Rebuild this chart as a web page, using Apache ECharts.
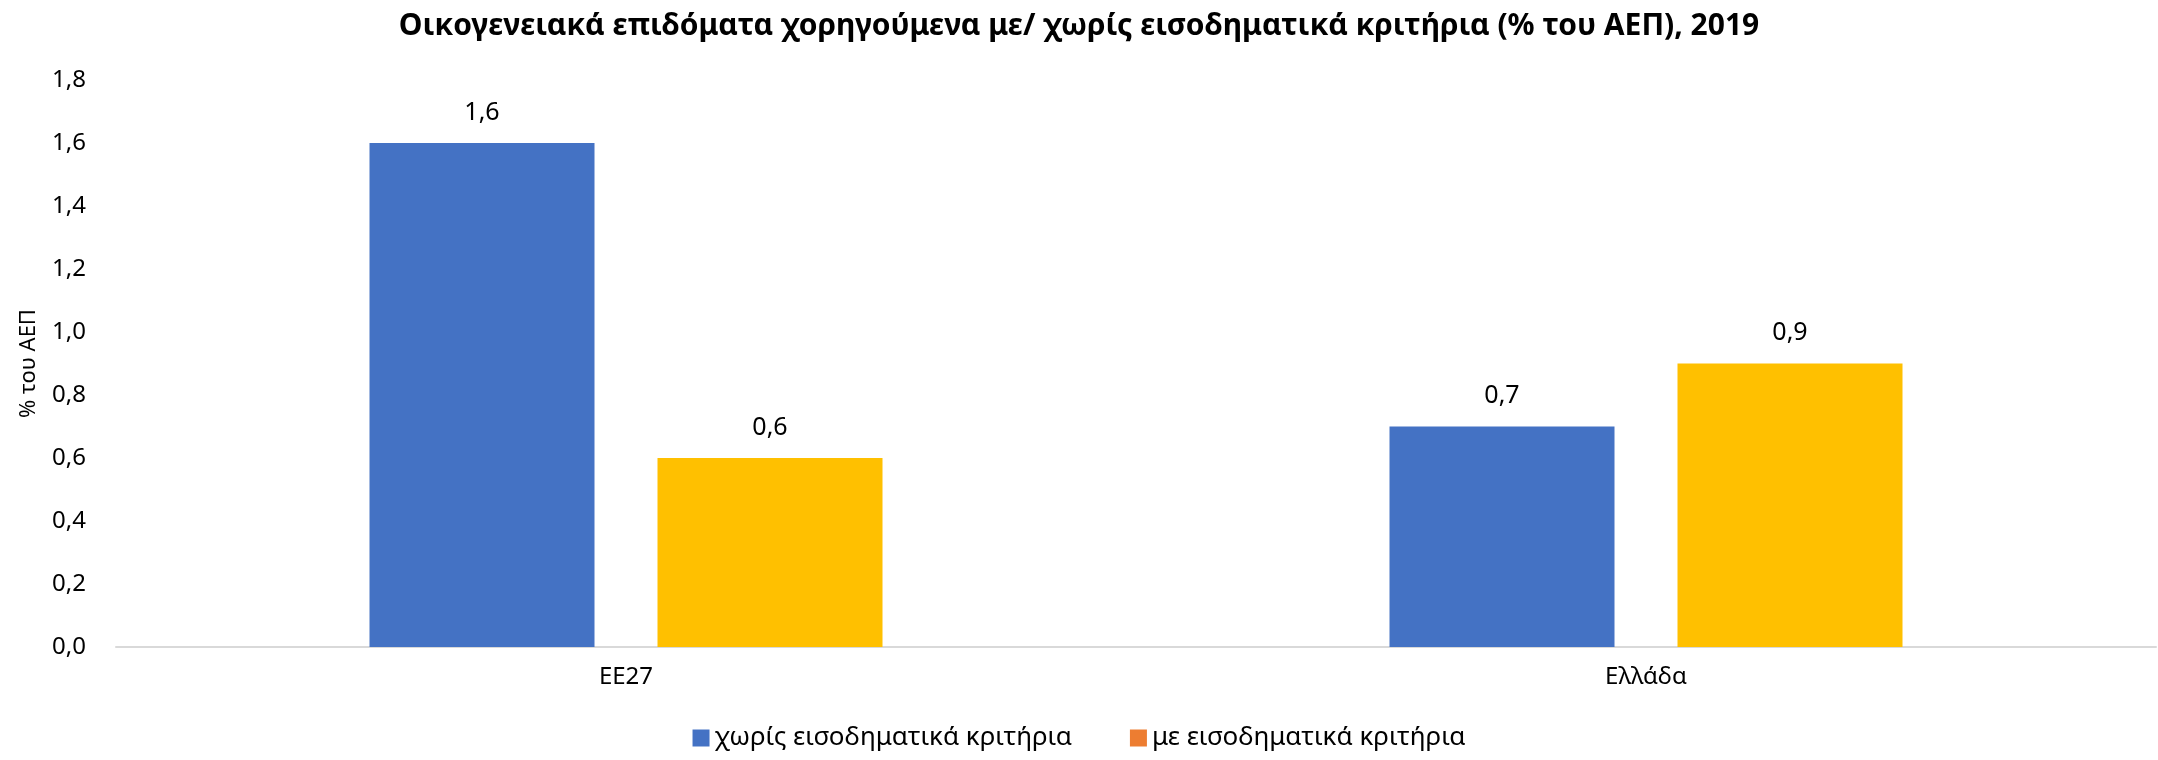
<!DOCTYPE html>
<html>
<head>
<meta charset="utf-8">
<script src="https://cdn.jsdelivr.net/npm/echarts@6/dist/echarts.min.js"></script>
<style>
  html, body { margin: 0; padding: 0; background: #fff; }
  #chart { width: 2158px; height: 760px; }
</style>
</head>
<body>
<div id="chart"></div>
<script>
const categories = ['ΕΕ27', 'Ελλάδα']
const seriesNames = ['χωρίς εισοδηματικά κριτήρια', 'με εισοδηματικά κριτήρια']
const withoutCriteria = [1.6, 0.7]
const withCriteria = [0.6, 0.9]

const chart = echarts.init(document.getElementById('chart'))
const font = 'Noto Sans'
const comma = v => v.toFixed(1).replace('.', ',')

const barLabel = {
  show: true,
  position: 'top',
  distance: 18,
  color: '#000',
  fontFamily: font,
  fontSize: 25,
  formatter: ({ value }) => comma(value)
}

chart.setOption({
  animation: false,
  textStyle: { fontFamily: font },
  title: {
    text: 'Οικογενειακά επιδόματα χορηγούμενα με/ χωρίς εισοδηματικά κριτήρια (% του ΑΕΠ), 2019',
    left: 'center',
    top: 6,
    textStyle: { fontFamily: font, fontSize: 30, fontWeight: 'bold', color: '#000' }
  },
  legend: {
    bottom: 4,
    left: 'center',
    itemWidth: 17,
    itemHeight: 17,
    itemGap: 58,
    icon: 'rect',
    textStyle: { fontFamily: font, fontSize: 26, color: '#000' },
    data: [
      { name: seriesNames[0], itemStyle: { color: '#4472C4' } },
      { name: seriesNames[1], itemStyle: { color: '#ED7D31' } }
    ]
  },
  grid: { left: 116, right: 2, top: 80, bottom: 113 },
  xAxis: {
    type: 'category',
    data: categories,
    axisTick: { show: false },
    axisLine: { lineStyle: { color: '#d9d9d9', width: 2 } },
    axisLabel: { color: '#000', fontFamily: font, fontSize: 24, margin: 18 }
  },
  yAxis: {
    type: 'value',
    min: 0,
    max: 1.8,
    interval: 0.2,
    name: '% του ΑΕΠ',
    nameLocation: 'middle',
    nameGap: 76,
    nameTextStyle: { color: '#000', fontFamily: font, fontSize: 22 },
    splitLine: { show: false },
    axisLine: { show: false },
    axisTick: { show: false },
    axisLabel: { color: '#000', fontFamily: font, fontSize: 24, margin: 30, formatter: comma }
  },
  series: [
    {
      name: seriesNames[0],
      type: 'bar',
      data: withoutCriteria,
      barWidth: 225,
      barGap: '28%',
      itemStyle: { color: '#4472C4' },
      label: barLabel
    },
    {
      name: seriesNames[1],
      type: 'bar',
      data: withCriteria,
      barWidth: 225,
      itemStyle: { color: '#FFC000' },
      label: barLabel
    }
  ]
})
</script>
</body>
</html>
